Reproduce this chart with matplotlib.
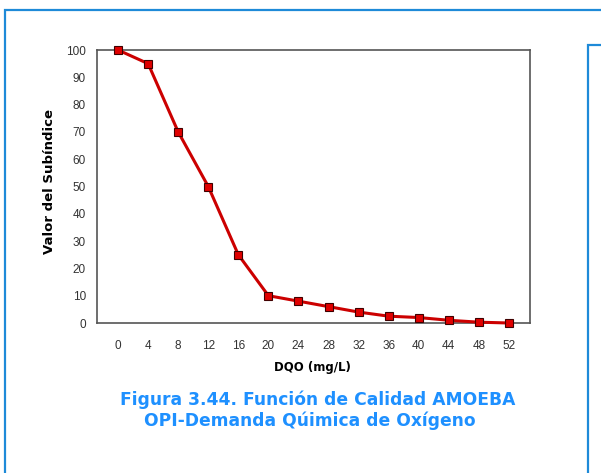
import numpy as np
import matplotlib.pyplot as plt
from matplotlib.patches import Rectangle

# data
dqo = [0, 4, 8, 12, 16, 20, 24, 28, 32, 36, 40, 44, 48, 52]
valor = [100, 95, 70, 50, 25, 10, 8, 6, 4, 2.5, 2, 1, 0.3, 0]
yticks = [0, 10, 20, 30, 40, 50, 60, 70, 80, 90, 100]

W, H = 601, 473
fig = plt.figure(figsize=(W / 100, H / 100), dpi=100)
fig.patch.set_facecolor('white')

# blue frames around the figure
blue = '#1e8ad8'
fig.add_artist(Rectangle((5 / W, -0.1), 1.2, (H - 10) / H + 0.1, transform=fig.transFigure,
                         fill=False, edgecolor=blue, linewidth=1.6))
fig.add_artist(Rectangle((588 / W, -0.1), 1.2, (H - 45) / H + 0.1, transform=fig.transFigure,
                         fill=False, edgecolor=blue, linewidth=1.6))

# plot area: x 97..530, y 50..323 (pixels)
ax = fig.add_axes([97 / W, 1 - 323 / H, (530 - 97) / W, (323 - 50) / H])
ax.plot(dqo, valor, color='#cc0000', linewidth=2.2, marker='s', markersize=6,
        markerfacecolor='#e00000', markeredgecolor='#400000', markeredgewidth=0.8,
        clip_on=False, zorder=3)
ax.set_xlim(-2.8, 54.8)
ax.set_ylim(0, 100)
ax.set_xticks(dqo)
ax.set_yticks(yticks)
ax.tick_params(length=0, labelsize=8.5, labelcolor='#333333', pad=8)
ax.tick_params(axis='x', pad=12)
for lab in ax.get_xticklabels() + ax.get_yticklabels():
    lab.set_fontfamily('Liberation Sans')
for s in ax.spines.values():
    s.set_color('#555555')
    s.set_linewidth(1.2)

ax.set_xlabel('DQO (mg/L)', fontsize=8.5, fontweight='bold')
ax.xaxis.set_label_coords((312 - 97) / 433, -(361 - 323) / 273)
ax.set_ylabel('Valor del Subíndice', fontsize=9.5, fontweight='bold')
ax.yaxis.set_label_coords((56 - 97) / 433, (323 - 181) / 273)

fig.text(318 / W, 1 - 400 / H, 'Figura 3.44. Función de Calidad AMOEBA',
         ha='center', va='center', color='#1e90ff', fontsize=12.3, fontweight='bold')
fig.text(310 / W, 1 - 421 / H, 'OPI-Demanda Qúimica de Oxígeno',
         ha='center', va='center', color='#1e90ff', fontsize=12.3, fontweight='bold')

fig.savefig('out.png', dpi=100)
